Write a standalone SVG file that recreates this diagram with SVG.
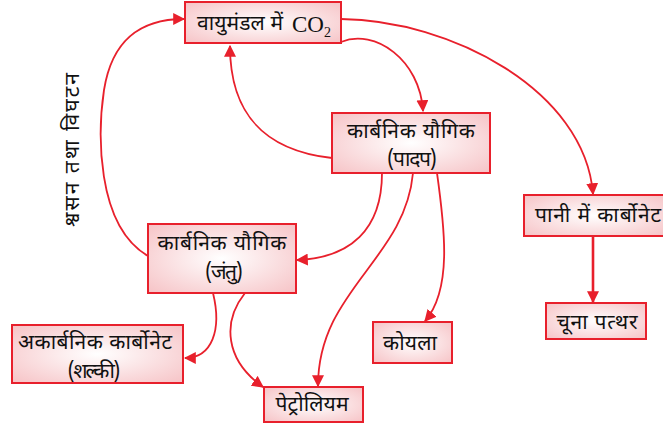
<svg xmlns="http://www.w3.org/2000/svg" width="663" height="428" viewBox="0 0 663 428">
<defs>
<radialGradient id="bg" cx="50%" cy="50%" r="70%">
<stop offset="0" stop-color="#ffffff"/>
<stop offset="1" stop-color="#f6c3c6"/>
</radialGradient>
<marker id="ah" viewBox="0 0 10 10" refX="9" refY="5" markerWidth="12" markerHeight="12" markerUnits="userSpaceOnUse" orient="auto">
<path d="M0,0 L10,5 L0,10 z" fill="#e8202c"/>
</marker>
<style>
.box{fill:url(#bg);stroke:#e8202c;stroke-width:2}
.t{font-family:"Noto Sans Devanagari","Noto Sans","Lohit Devanagari",sans-serif;font-size:21px;fill:#111;text-anchor:middle}
.c{fill:none;stroke:#e8202c;stroke-width:1.8;marker-end:url(#ah)}
</style>
</defs>
<g id="connectors">
<path class="c" d="M148,256 C95,225 98,130 104,90 C112,40 140,19 184,19"/>
<path class="c" d="M332,158 C262,150 230,112 230,46"/>
<path class="c" d="M341,42 C375,28 420,60 423,111"/>
<path class="c" d="M341,19 C450,20 585,90 593,194"/>
<path class="c" d="M382,173 C382,230 350,258 297,260"/>
<path class="c" d="M413,173 C405,260 318,290 318,386"/>
<path class="c" d="M437,173 C445,230 452,290 425,321"/>
<path class="c" d="M213,293 C222,330 212,358 185,358"/>
<path class="c" d="M245,293 C222,322 225,360 263,387"/>
<path class="c" d="M593,236 L593,302" style="stroke-width:2.6"/>
</g>
<g id="atm">
<rect class="box" x="185" y="2" width="156" height="41"/>
<text class="t" x="240" y="30" textLength="86" lengthAdjust="spacing">वायुमंडल में</text>
<text x="292" y="32" style="font-family:'Liberation Serif',serif;font-size:23px;fill:#111">CO<tspan font-size="14" dy="5">2</tspan></text>
</g>
<g id="plant">
<rect class="box" x="332" y="113" width="158" height="60"/>
<text class="t" x="411" y="138" textLength="128" lengthAdjust="spacing">कार्बनिक यौगिक</text>
<text class="t" x="412" y="166" textLength="50" lengthAdjust="spacing">(पादप)</text>
</g>
<g id="animal">
<rect class="box" x="148" y="224" width="148" height="69"/>
<text class="t" x="222" y="250" textLength="129" lengthAdjust="spacing">कार्बनिक यौगिक</text>
<text class="t" x="224" y="279" textLength="38" lengthAdjust="spacing">(जंतु)</text>
</g>
<g id="shelki">
<rect class="box" x="12" y="325" width="171" height="58"/>
<text class="t" x="95" y="349" textLength="154" lengthAdjust="spacing">अकार्बनिक कार्बोनेट</text>
<text class="t" x="94" y="378" textLength="53" lengthAdjust="spacing">(शल्की)</text>
</g>
<g id="petroleum">
<rect class="box" x="264" y="387" width="99" height="35"/>
<text class="t" x="312" y="411" textLength="73" lengthAdjust="spacing">पेट्रोलियम</text>
</g>
<g id="coal">
<rect class="box" x="373" y="322" width="79" height="41"/>
<text class="t" x="410" y="350" textLength="54" lengthAdjust="spacing">कोयला</text>
</g>
<g id="water">
<rect class="box" x="524" y="195" width="142" height="41"/>
<text class="t" x="535" y="222" style="text-anchor:start" textLength="126" lengthAdjust="spacing">पानी में कार्बोनेट</text>
</g>
<g id="limestone">
<rect class="box" x="546" y="303" width="100" height="36"/>
<text class="t" x="597" y="329" textLength="81" lengthAdjust="spacing">चूना पत्थर</text>
</g>
<text class="t" transform="translate(79,150) rotate(-90)" textLength="154" lengthAdjust="spacing">श्वसन तथा विघटन</text>
</svg>
